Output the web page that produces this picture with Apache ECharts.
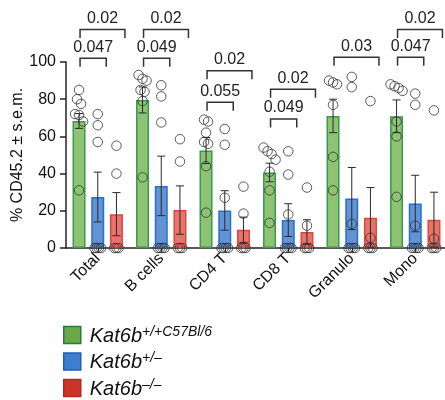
<!DOCTYPE html>
<html>
<head>
<meta charset="utf-8">
<script src="https://cdn.jsdelivr.net/npm/echarts@6/dist/echarts.min.js"></script>
<style>
html,body{margin:0;padding:0;background:#fff;}
#main{width:445px;height:400px;}
</style>
</head>
<body>
<div id="main"></div>
<script>
var categories = ['Total', 'B cells', 'CD4 T', 'CD8 T', 'Granulo', 'Mono'];
var seriesNames = ['Kat6b+/+C57Bl/6', 'Kat6b+/–', 'Kat6b–/–'];
var supText = ['+/+C57Bl/6', '+/–', '–/–'];

// bar heights (mean) and s.e.m.
var wtMean = [68.3, 79.6, 52.4, 40.6, 71, 70.8];
var hetMean = [27.4, 33.4, 20.2, 15, 26.6, 23.9];
var koMean = [18.2, 20.4, 9.8, 8.6, 16.3, 15.2];
var wtSem = [4, 7, 7, 5, 9, 8.8];
var hetSem = [13.4, 16, 10.6, 8.8, 16.7, 15.2];
var koSem = [11.6, 13, 6.8, 6.6, 16.2, 14.8];

// individual mice
var wtDots = [[85, 80, 77.5, 72, 71.5, 68, 31], [93, 91, 90, 85, 84, 79, 38], [69, 68, 62, 57, 56, 44, 19],
    [54, 52, 50.5, 47.5, 41, 31, 13.5], [90, 89, 88, 77, 49, 31], [88, 87, 86, 84.5, 68, 60, 27.5]];
var hetDots = [[72, 66, 57, 0, 0, 0, 0], [87.5, 81.5, 67.5, 0, 0, 0, 0], [64, 55.5, 27, 0, 0, 0, 0],
    [52, 39.5, 18, 0, 0, 0, 0], [92, 86.5, 13, 0, 0, 0, 0], [83, 77, 12, 0, 0, 0, 0]];
var koDots = [[55, 40, 0, 0, 0], [58.5, 46.5, 0, 0, 0], [33, 18.5, 0, 0, 0],
    [32.5, 12, 0, 0, 0], [79, 5.5, 0, 0, 0], [74, 5, 0, 0, 0]];

// p-value brackets: category, compared group (1 = +/-, 2 = -/-), bracket level, label
var bracketCat = [0, 0, 1, 1, 2, 2, 3, 3, 4, 5, 5];
var bracketTo = [2, 1, 2, 1, 2, 1, 2, 1, 2, 2, 1];
var bracketLevel = [117.5, 102, 117.5, 102, 95.3, 78.4, 85.3, 69.4, 102.5, 117.5, 102.5];
var pText = ['0.02', '0.047', '0.02', '0.049', '0.02', '0.055', '0.02', '0.049', '0.03', '0.02', '0.047'];

var FONT = '"Liberation Sans", Arial, Helvetica, sans-serif';
var fills = ['rgba(130,188,100,0.9)', 'rgba(80,135,210,0.9)', 'rgba(230,100,90,0.9)'];
var borders = ['#3a9a4e', '#2a70c8', '#e0463c'];
var legFills = ['#6aa84a', '#3d7ecf', '#cc3328'];
var legBorders = ['#2a7a3a', '#1e5fb6', '#b0281f'];
var barW = 13, pitch = 18.7;
var offs = [-pitch, 0, pitch];

function swarm(vals){
    var idx = vals.map(function(v, i){ return i; });
    idx.sort(function(a, b){ return vals[b] - vals[a]; });
    var res = [];
    var i = 0;
    while(i < idx.length){
        var j = i;
        while(j + 1 < idx.length && vals[idx[j]] - vals[idx[j + 1]] < 3.6){
            j++;
        }
        var n = j - i + 1;
        var step = vals[idx[i]] == vals[idx[j]] ? 2.2 : 4;
        for(var k = 0; k < n; k++){
            res[idx[i + k]] = (k - (n - 1) / 2) * step;
        }
        i = j + 1;
    }
    return res;
}

function draw(){
    var myChart = echarts.init(document.getElementById('main'));
    var means = [wtMean, hetMean, koMean];
    var sems = [wtSem, hetSem, koSem];
    var dots = [wtDots, hetDots, koDots];
    var series = [];

    for(var g = 0; g < 3; g++){
        series.push({
            name: seriesNames[g],
            type: 'bar',
            barWidth: barW,
            barGap: '44%',
            z: 2,
            itemStyle: {color: fills[g], borderColor: borders[g], borderWidth: 1.5},
            data: means[g]
        });
    }

    for(var g = 0; g < 3; g++){
        var errData = [];
        for(var i = 0; i < categories.length; i++){
            errData.push([i, means[g][i], sems[g][i]]);
        }
        (function(off){
            series.push({
                type: 'custom',
                z: 3,
                clip: false,
                silent: true,
                encode: {x: 0, y: 1},
                data: errData,
                renderItem: function(params, api){
                    var c = api.value(0);
                    var m = api.value(1), s = api.value(2);
                    var hi = api.coord([c, m + s]);
                    var lo = api.coord([c, m - s]);
                    var x = hi[0] + off;
                    var st = {stroke: '#2a2a2a', lineWidth: 1};
                    return {type: 'group', children: [
                        {type: 'line', shape: {x1: x, y1: hi[1], x2: x, y2: lo[1]}, style: st},
                        {type: 'line', shape: {x1: x - 4, y1: hi[1], x2: x + 4, y2: hi[1]}, style: st},
                        {type: 'line', shape: {x1: x - 4, y1: lo[1], x2: x + 4, y2: lo[1]}, style: st}
                    ]};
                }
            });
        })(offs[g]);
    }

    for(var g = 0; g < 3; g++){
        var pts = [];
        for(var i = 0; i < categories.length; i++){
            var jit = swarm(dots[g][i]);
            for(var k = 0; k < dots[g][i].length; k++){
                pts.push({value: [i, dots[g][i][k]], symbolOffset: [offs[g] + jit[k], 0]});
            }
        }
        series.push({
            type: 'scatter',
            z: 4,
            silent: true,
            symbol: 'circle',
            symbolSize: 9.5,
            itemStyle: {color: 'rgba(255,255,255,0)', borderColor: '#333', borderWidth: 1},
            data: pts
        });
    }

    var brData = [];
    for(var b = 0; b < bracketCat.length; b++){
        brData.push([bracketCat[b], bracketLevel[b], bracketTo[b]]);
    }
    series.push({
        type: 'custom',
        z: 5,
        clip: false,
        silent: true,
        encode: {x: 0, y: 1},
        data: brData,
        renderItem: function(params, api){
            var p = api.coord([api.value(0), api.value(1)]);
            var left = p[0] + offs[0] + 1;
            var right = p[0] + offs[api.value(2)] + barW / 2 + 2;
            var y = p[1];
            return {type: 'group', children: [
                {type: 'polyline', shape: {points: [[left, y + 8.5], [left, y], [right, y], [right, y + 8.5]]},
                    style: {stroke: '#333', lineWidth: 1.5, fill: null}},
                {type: 'text', x: (left + right) / 2, y: y - 11,
                    style: {text: pText[params.dataIndex], fill: '#222', font: '16px ' + FONT,
                        align: 'center', verticalAlign: 'middle'}}
            ]};
        }
    });

    var option = {
        animation: false,
        backgroundColor: '#fff',
        grid: {left: 66, top: 62, width: 381, height: 186, outerBoundsMode: 'none', containLabel: false},
        legend: {
            orient: 'vertical',
            left: 63,
            top: 325,
            padding: 0,
            itemWidth: 17,
            itemHeight: 17,
            itemGap: 5.5,
            icon: 'rect',
            selectedMode: false,
            data: seriesNames.map(function(n, i){
                return {name: n, itemStyle: {color: legFills[i], borderColor: legBorders[i], borderWidth: 1.5}};
            }),
            formatter: function(name){
                var i = seriesNames.indexOf(name);
                return '{k|Kat6b}{s|' + supText[i] + '}';
            },
            textStyle: {
                padding: [0, 0, 0, 4],
                rich: {
                    k: {fontSize: 20, fontStyle: 'italic', fontFamily: FONT, color: '#111', lineHeight: 22, verticalAlign: 'bottom'},
                    s: {fontSize: 14, fontStyle: 'italic', fontFamily: FONT, color: '#111', lineHeight: 22, verticalAlign: 'bottom', padding: [0, 0, 7, 0]}
                }
            }
        },
        xAxis: {
            type: 'category',
            data: categories,
            axisLine: {lineStyle: {color: '#222', width: 1.5}},
            axisTick: {show: true, alignWithLabel: true, length: 4, lineStyle: {color: '#222'}},
            axisLabel: {rotate: 45, margin: 8, fontSize: 16, color: '#111', fontFamily: FONT, interval: 0}
        },
        yAxis: {
            type: 'value',
            min: 0,
            max: 100,
            interval: 20,
            name: '% CD45.2 ± s.e.m.',
            nameLocation: 'middle',
            nameGap: 40,
            nameMoveOverlap: false,
            nameTextStyle: {fontSize: 16, color: '#111', fontFamily: FONT},
            axisLine: {show: true, lineStyle: {color: '#222', width: 1.5}},
            axisTick: {show: true, length: 6, lineStyle: {color: '#222', width: 1.5}},
            axisLabel: {margin: 10, fontSize: 16, color: '#111', fontFamily: FONT},
            splitLine: {show: false}
        },
        series: series
    };

    myChart.setOption(option);
}

draw();
</script>
</body>
</html>
